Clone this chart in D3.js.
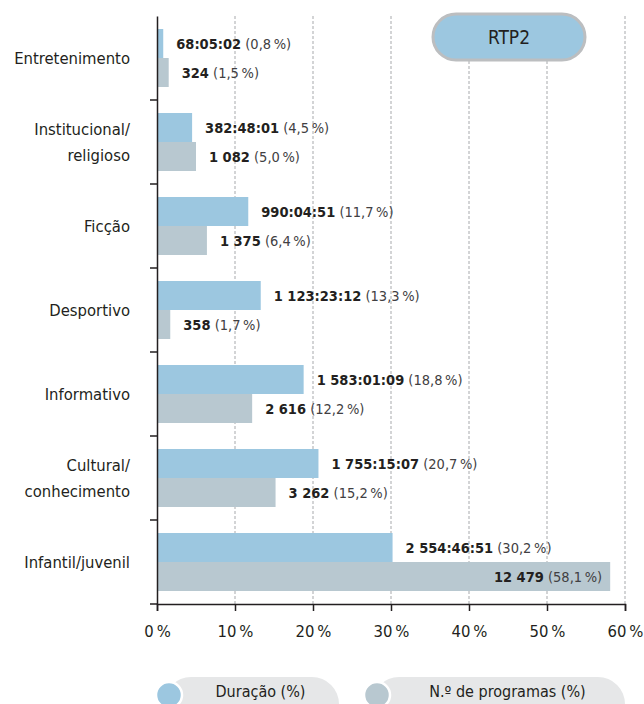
<!DOCTYPE html>
<html>
<head>
<meta charset="utf-8">
<script src="https://cdn.jsdelivr.net/npm/d3@7"></script>
<style>
  body { margin: 0; background: #fff; }
  text { font-family: "Liberation Sans Narrow", "DejaVu Sans Condensed", "Roboto", sans-serif; fill: #231f20; }
</style>
</head>
<body>
<div id="chart"></div>
<script>
const categories = ["Entretenimento", "Institucional/\nreligioso", "Ficção", "Desportivo", "Informativo", "Cultural/\nconhecimento", "Infantil/juvenil"];
const durationLabels = ["68:05:02", "382:48:01", "990:04:51", "1 123:23:12", "1 583:01:09", "1 755:15:07", "2 554:46:51"];
const durationPct = [0.8, 4.5, 11.7, 13.3, 18.8, 20.7, 30.2];
const programCounts = ["324", "1 082", "1 375", "358", "2 616", "3 262", "12 479"];
const programPct = [1.5, 5.0, 6.4, 1.7, 12.2, 15.2, 58.1];
const xTicks = [0, 10, 20, 30, 40, 50, 60];

const blue = "#9cc7e0";
const grey = "#b8c8d0";

const margin = { top: 16, right: 19, bottom: 100, left: 157 };
const width = 644 - margin.left - margin.right;
const height = 704 - margin.top - margin.bottom;

const svg = d3.select("#chart").append("svg")
  .attr("width", 644)
  .attr("height", 704);

const g = svg.append("g").attr("transform", `translate(${margin.left}, ${margin.top})`);

const x = d3.scaleLinear().domain([0, 60]).range([0, width]);
const y = d3.scaleBand().domain(categories).range([0, height]);
const inner = d3.scaleBand().domain(["d", "p"]).range([13, y.bandwidth() - 13]);

const fmt = (v) => v.toFixed(1).replace(".", ",") + "\u202F%";

// grid lines
g.selectAll(".grid").data(xTicks.slice(1)).enter().append("line")
  .attr("x1", (d) => x(d)).attr("x2", (d) => x(d))
  .attr("y1", 0).attr("y2", height)
  .attr("stroke", "#a7a9ac").attr("stroke-dasharray", "3,2").attr("stroke-width", 1);

const rows = categories.map((c, i) => ({ c, i }));

const row = g.selectAll(".row").data(rows).enter().append("g")
  .attr("transform", (d) => `translate(0, ${y(d.c)})`);

row.append("rect")
  .attr("x", 0).attr("y", inner("d"))
  .attr("width", (d) => x(durationPct[d.i]))
  .attr("height", inner.bandwidth())
  .attr("fill", blue);

row.append("rect")
  .attr("x", 0).attr("y", inner("p"))
  .attr("width", (d) => x(programPct[d.i]))
  .attr("height", inner.bandwidth())
  .attr("fill", grey);

function label(sel, key, vals, pcts) {
  const t = sel.append("text")
    .attr("y", inner(key) + inner.bandwidth() / 2)
    .attr("dy", "0.36em")
    .style("font-size", "14.5px");
  t.each(function (d) {
    const w = x(pcts[d.i]);
    const inside = w > width - 90;
    d3.select(this)
      .attr("x", inside ? w - 8 : w + 13)
      .attr("text-anchor", inside ? "end" : "start");
  });
  t.append("tspan").style("font-weight", "bold").text((d) => vals[d.i]);
  t.append("tspan").attr("fill", "#414042").text((d) => " (" + fmt(pcts[d.i]) + ")");
}
label(row, "d", durationLabels, durationPct);
label(row, "p", programCounts, programPct);

// y axis
const yAxis = g.append("g").call(d3.axisLeft(y).tickSize(0).tickFormat(""));
yAxis.select(".domain").attr("stroke", "#231f20").attr("stroke-width", 1.5);
g.selectAll(".ytick").data(d3.range(1, categories.length + 1)).enter().append("line")
  .attr("x1", -7).attr("x2", 0)
  .attr("y1", (d) => d * y.step()).attr("y2", (d) => d * y.step())
  .attr("stroke", "#231f20").attr("stroke-width", 1.5);

// category labels
g.selectAll(".cat").data(rows).enter().append("text")
  .attr("x", -27)
  .attr("text-anchor", "end")
  .style("font-size", "16.5px")
  .each(function (d) {
    const lines = d.c.split("\n");
    const cy = y(d.c) + y.bandwidth() / 2;
    const t = d3.select(this);
    lines.forEach((l, k) => {
      t.append("tspan")
        .attr("x", -27)
        .attr("y", cy + (k - (lines.length - 1) / 2) * 26)
        .attr("dy", "0.36em")
        .text(l);
    });
  });

// x axis
const xAxis = g.append("g")
  .attr("transform", `translate(0, ${height})`)
  .call(d3.axisBottom(x).tickValues(xTicks).tickSize(7).tickPadding(14).tickFormat((d) => d + "\u202F%"));
xAxis.select(".domain").attr("stroke", "#231f20").attr("stroke-width", 1.5);
xAxis.selectAll(".tick line").attr("stroke", "#231f20").attr("stroke-width", 1.5);
xAxis.selectAll(".tick text")
  .style("font-size", "16.5px")
  .style("font-family", "\"Liberation Sans Narrow\", \"DejaVu Sans Condensed\", sans-serif")
  .attr("fill", "#231f20");

// RTP2 badge
svg.append("rect")
  .attr("x", 433).attr("y", 14).attr("width", 152).attr("height", 46)
  .attr("rx", 23)
  .attr("fill", blue).attr("stroke", "#bcbec0").attr("stroke-width", 3);
svg.append("text")
  .attr("x", 509).attr("y", 37).attr("dy", "0.36em")
  .attr("text-anchor", "middle")
  .style("font-size", "19px")
  .text("RTP2");

// legend
const legend = [
  { name: "Duração (%)", color: blue, x0: 164, x1: 339 },
  { name: "N.º de programas (%)", color: grey, x0: 372, x1: 625 },
];
const lg = svg.selectAll(".legend").data(legend).enter().append("g");
lg.append("rect")
  .attr("x", (d) => d.x0).attr("y", 677)
  .attr("width", (d) => d.x1 - d.x0).attr("height", 54)
  .attr("rx", 27)
  .attr("fill", "#e6e7e8");
lg.append("circle")
  .attr("cx", (d) => d.x0 + 5).attr("cy", 695).attr("r", 13)
  .attr("fill", (d) => d.color).attr("stroke", "#fff").attr("stroke-width", 2.5);
lg.append("text")
  .attr("x", (d) => (d.x0 + 18 + d.x1) / 2).attr("y", 691).attr("dy", "0.36em")
  .attr("text-anchor", "middle")
  .style("font-size", "16px")
  .text((d) => d.name);
</script>
</body>
</html>
